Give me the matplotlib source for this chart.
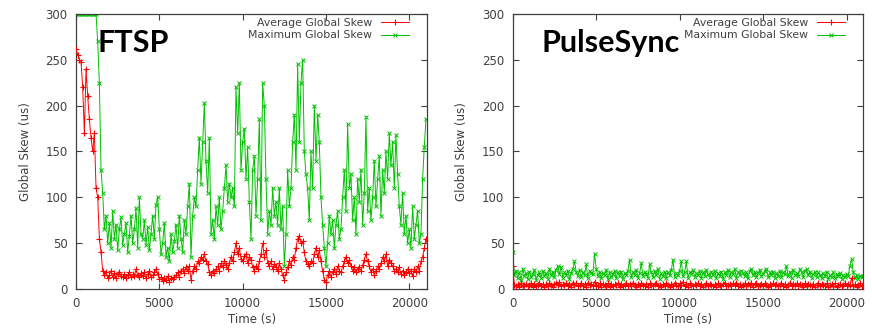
import numpy as np
import matplotlib
matplotlib.use("Agg")
import matplotlib.pyplot as plt

# Zeitachse: ein Messpunkt alle 100 s
time_s = np.arange(0, 21001, 100)

# FTSP - maximale globale Abweichung (us)
ftsp_max = [
    300, 300, 300, 300, 300, 300, 300, 300, 300, 300,
    300, 300, 300, 270, 225, 130, 105, 65, 80, 50,
    72, 45, 85, 55, 70, 42, 65, 78, 48, 60,
    72, 40, 58, 80, 50, 65, 88, 45, 100, 60,
    55, 75, 48, 68, 42, 60, 80, 55, 92, 100,
    65, 38, 50, 72, 35, 45, 30, 60, 40, 52,
    70, 45, 80, 55, 40, 75, 60, 90, 115, 35,
    80, 100, 90, 130, 165, 115, 160, 203, 140, 105,
    165, 60, 75, 55, 90, 70, 100, 65, 85, 110,
    135, 95, 115, 100, 110, 90, 220, 170, 225, 130,
    160, 175, 120, 155, 95, 55, 130, 145, 80, 120,
    185, 75, 225, 200, 120, 60, 85, 70, 110, 80,
    95, 70, 110, 65, 90, 25, 60, 130, 90, 110,
    160, 190, 130, 245, 160, 225, 250, 150, 125, 110,
    75, 150, 110, 200, 140, 190, 160, 100, 70, 45,
    25, 50, 80, 60, 75, 45, 70, 85, 55, 65,
    100, 130, 85, 180, 110, 125, 75, 100, 60, 120,
    95, 130, 70, 105, 188, 85, 110, 75, 100, 140,
    90, 120, 145, 80, 130, 105, 150, 120, 170, 135,
    160, 110, 168, 125, 90, 70, 105, 60, 80, 50,
    65, 45, 90, 55, 70, 85, 50, 60, 120, 155,
    185,
]

# FTSP - durchschnittliche globale Abweichung (us)
ftsp_avg = [
    262, 255, 250, 248, 220, 170, 240, 210, 185, 165,
    150, 170, 110, 100, 55, 40, 20, 15, 18, 12,
    15, 20, 13, 17, 12, 16, 18, 14, 13, 16,
    12, 15, 19, 13, 16, 14, 22, 15, 13, 17,
    14, 18, 12, 16, 20, 13, 15, 18, 22, 16,
    11, 13, 9, 12, 10, 14, 8, 12, 11, 13,
    15, 18, 13, 20, 22, 17, 24, 20, 25, 10,
    20, 25, 22, 30, 28, 35, 32, 38, 30, 27,
    18, 15, 20, 17, 22, 25, 20, 28, 24, 30,
    26, 22, 28, 35, 30, 40, 50, 38, 45, 33,
    30, 36, 38, 28, 35, 32, 24, 20, 25, 22,
    30, 38, 50, 35, 42, 28, 25, 30, 22, 27,
    24, 20, 28, 22, 15, 10, 18, 24, 30, 26,
    35, 32, 45, 55, 58, 50, 52, 40, 30, 27,
    25, 30, 28, 38, 45, 35, 42, 30, 20, 10,
    8, 15, 20, 13, 18, 22, 16, 25, 20, 18,
    25, 30, 35, 28, 32, 25, 20, 24, 18, 22,
    24, 20, 26, 32, 38, 30, 25, 18, 22, 15,
    20, 25, 22, 28, 35, 30, 38, 25, 32, 28,
    25, 20, 22, 18, 24, 16, 20, 15, 18, 22,
    17, 20, 14, 22, 18, 25, 20, 30, 35, 45,
    55,
]

# PulseSync - maximale globale Abweichung (us)
pulse_max = [
    40, 15, 20, 12, 18, 10, 22, 14, 17, 11,
    19, 13, 16, 21, 10, 15, 18, 12, 20, 14,
    17, 11, 22, 15, 19, 13, 21, 25, 16, 24,
    12, 18, 15, 20, 11, 17, 22, 30, 19, 14,
    21, 13, 18, 15, 27, 12, 20, 17, 16, 38,
    22, 14, 19, 12, 17, 15, 21, 11, 18, 13,
    16, 20, 12, 18, 14, 19, 11, 17, 15, 20,
    32, 13, 18, 15, 21, 12, 17, 28, 14, 19,
    16, 12, 27, 18, 13, 20, 15, 22, 11, 17,
    14, 19, 12, 18, 15, 21, 32, 13, 17, 15,
    20, 30, 14, 18, 30, 12, 19, 16, 21, 13,
    17, 15, 20, 12, 18, 14, 21, 16, 13, 19,
    15, 20, 12, 17, 14, 19, 11, 18, 15, 21,
    13, 18, 16, 22, 12, 19, 15, 20, 17, 14,
    18, 12, 20, 22, 15, 19, 13, 17, 21, 14,
    16, 20, 22, 13, 18, 15, 19, 12, 17, 14,
    20, 13, 18, 16, 25, 14, 19, 12, 21, 15,
    17, 14, 22, 18, 13, 20, 22, 15, 19, 12,
    16, 19, 13, 18, 15, 12, 17, 14, 19, 11,
    15, 13, 18, 12, 16, 14, 17, 11, 15, 13,
    16, 14, 25, 33, 18, 12, 15, 11, 14, 13,
    14,
]

# PulseSync - durchschnittliche globale Abweichung (us)
pulse_avg = [
    25, 4, 3, 5, 2, 6, 3, 4, 5, 3,
    4, 6, 2, 5, 3, 4, 7, 3, 5, 2,
    5, 3, 6, 4, 2, 5, 7, 4, 8, 3,
    5, 4, 6, 3, 5, 2, 7, 4, 6, 3,
    4, 6, 3, 5, 2, 7, 4, 5, 3, 8,
    4, 3, 6, 2, 5, 4, 3, 6, 2, 5,
    3, 5, 4, 6, 2, 5, 3, 4, 6, 3,
    5, 3, 7, 4, 2, 5, 3, 6, 4, 3,
    5, 2, 6, 4, 3, 5, 7, 3, 4, 2,
    5, 3, 6, 4, 2, 5, 3, 7, 4, 3,
    6, 4, 8, 3, 5, 2, 6, 4, 3, 5,
    4, 6, 3, 5, 2, 4, 6, 3, 5, 4,
    3, 5, 2, 6, 4, 3, 5, 7, 3, 4,
    5, 3, 6, 4, 7, 3, 5, 2, 4, 6,
    3, 5, 4, 6, 2, 5, 7, 3, 4, 5,
    3, 6, 4, 2, 5, 3, 6, 4, 5, 3,
    4, 6, 3, 5, 2, 4, 7, 3, 5, 4,
    6, 3, 5, 4, 2, 6, 3, 5, 4, 3,
    5, 2, 4, 6, 3, 5, 4, 3, 6, 2,
    4, 5, 3, 6, 2, 4, 5, 3, 4, 6,
    3, 5, 4, 12, 3, 5, 2, 4, 6, 3,
    4,
]

x_ticks = [0, 5000, 10000, 15000, 20000]
y_ticks = [0, 50, 100, 150, 200, 250, 300]

RED = "#ff0000"
GREEN = "#00c000"
GRAY = "#404040"

fig = plt.figure(figsize=(8.72, 3.29), dpi=100)

panels = [
    ([0.0872, 0.1216, 0.4028, 0.8359], ftsp_avg, ftsp_max, "FTSP", 0.06, 21080),
    ([0.5880, 0.1216, 0.4020, 0.8359], pulse_avg, pulse_max, "PulseSync", 0.083, 21000),
]

for rect, avg, mx, title, tx, xmax in panels:
    ax = fig.add_axes(rect)
    ax.plot(time_s, avg, color=RED, lw=0.7, marker="+", ms=5, mew=0.8,
            label="Average Global Skew", zorder=3)
    ax.plot(time_s, mx, color=GREEN, lw=0.7, marker="x", ms=3.5, mew=0.7,
            label="Maximum Global Skew", zorder=2)
    ax.set_xlim(0, xmax)
    ax.set_ylim(0, 300)
    ax.set_xticks(x_ticks)
    ax.set_yticks(y_ticks)
    ax.tick_params(direction="in", top=True, right=True, length=4, width=0.8,
                   labelsize=8.5, labelcolor=GRAY, color=GRAY, pad=6)
    for sp in ax.spines.values():
        sp.set_color(GRAY)
        sp.set_linewidth(0.9)
    ax.set_xlabel("Time (s)", fontsize=8.5, color=GRAY, labelpad=2)
    ax.set_ylabel("Global Skew (us)", fontsize=8.5, color=GRAY, labelpad=10)
    ax.text(tx, 0.895, title, transform=ax.transAxes, fontsize=22,
            fontweight="bold", family="Lato", color="black", va="center", ha="left")
    leg = ax.legend(loc="upper right", bbox_to_anchor=(0.975, 1.02), frameon=False,
                    markerfirst=False, fontsize=7.8, handlelength=2.6,
                    handletextpad=0.8, labelspacing=0.2)
    for t in leg.get_texts():
        t.set_color(GRAY)

fig.savefig("out.png", dpi=100)
